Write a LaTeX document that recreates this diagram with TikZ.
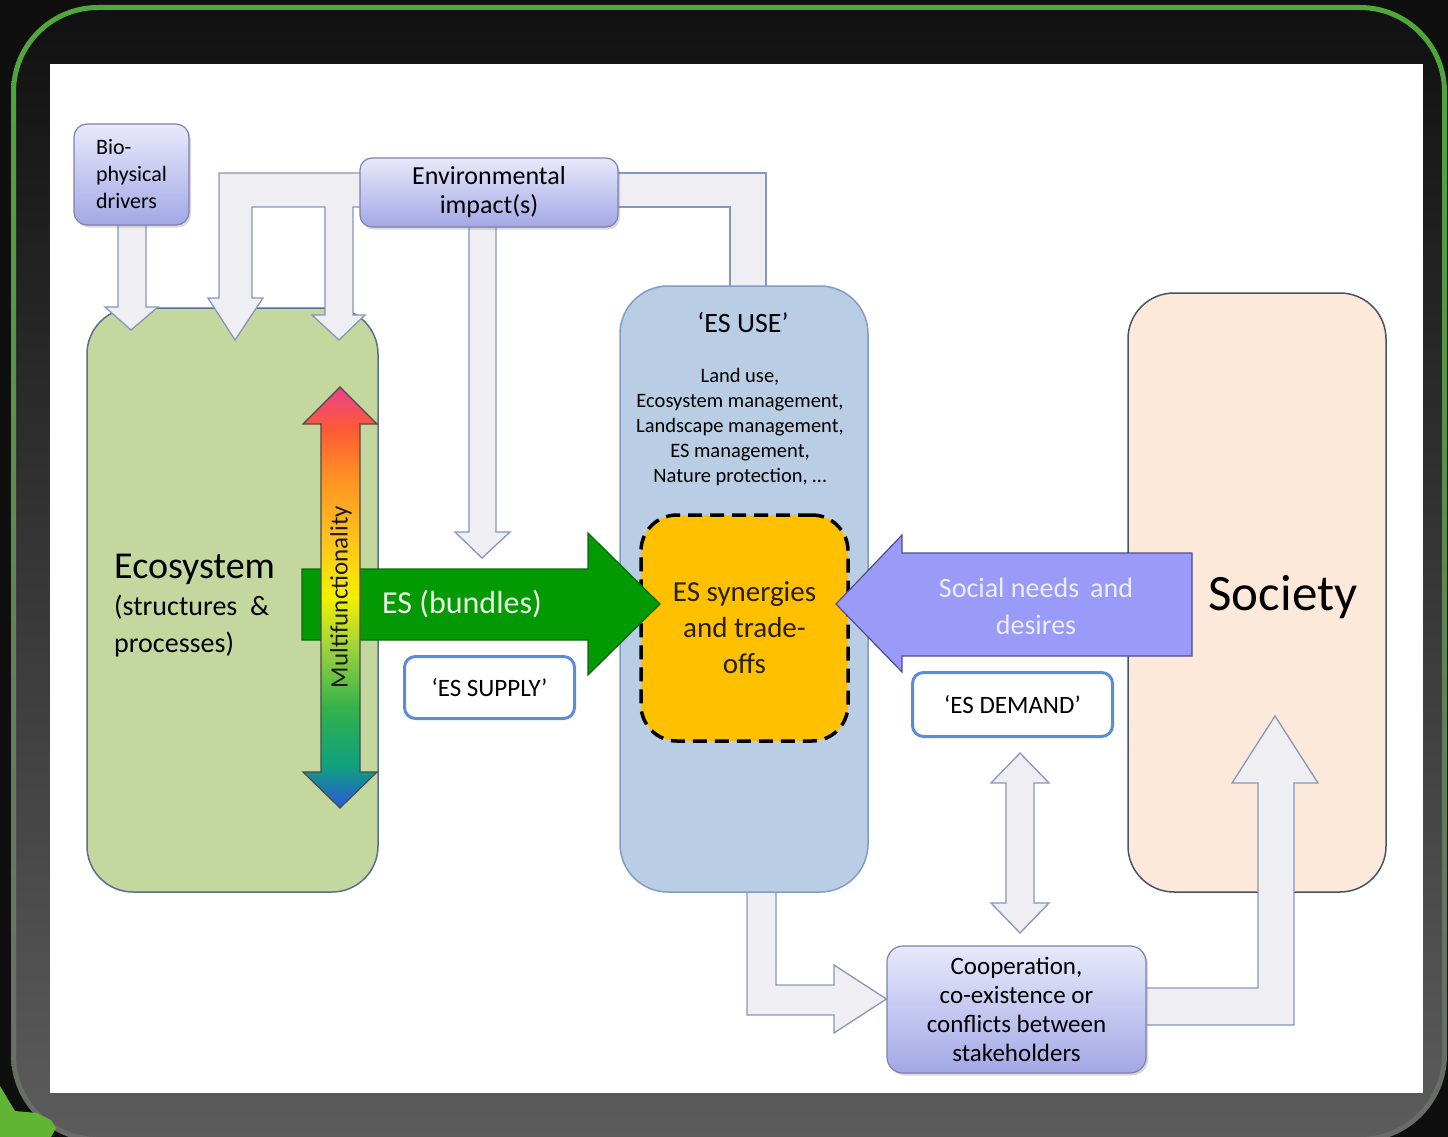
\documentclass[tikz,border=0pt]{standalone}
\usepackage{fontspec}
\setmainfont{Carlito}
\usetikzlibrary{shadows}

\definecolor{frameBlack}{HTML}{0F0F0F}
\definecolor{panelTop}{HTML}{111111}
\definecolor{panelBot}{HTML}{5C5C5C}
\definecolor{rimTop}{HTML}{4FA83A}
\definecolor{rimMid}{HTML}{2D5A25}
\definecolor{rimBot}{HTML}{6A6A6A}
\definecolor{leafGreen}{HTML}{62B534}
\definecolor{boxTop}{HTML}{E8E9FB}
\definecolor{boxBot}{HTML}{A3A8E6}
\definecolor{boxLine}{HTML}{7D82AA}
\definecolor{flowFill}{HTML}{EEEEF3}
\definecolor{flowLine}{HTML}{8797B8}
\definecolor{ecoFill}{HTML}{C4D79E}
\definecolor{ecoLine}{HTML}{5A6F8F}
\definecolor{useFill}{HTML}{B9CDE5}
\definecolor{useLine}{HTML}{809DC6}
\definecolor{socFill}{HTML}{FDE9D9}
\definecolor{socLine}{HTML}{46546A}
\definecolor{synFill}{HTML}{FFC000}
\definecolor{synText}{HTML}{2A2000}
\definecolor{esGreen}{HTML}{049A04}
\definecolor{esGreenLine}{HTML}{0B6A0B}
\definecolor{esGreenText}{HTML}{EAF7E6}
\definecolor{needFill}{HTML}{9A9AF8}
\definecolor{needLine}{HTML}{4E4E8C}
\definecolor{needText}{HTML}{ECECFF}
\definecolor{tagLine}{HTML}{5A8ED2}
\definecolor{mfPink}{HTML}{E8428A}
\definecolor{mfRed}{HTML}{FF5A36}
\definecolor{mfOrange}{HTML}{FF9422}
\definecolor{mfAmber}{HTML}{FFC21E}
\definecolor{mfYellow}{HTML}{F2F000}
\definecolor{mfLime}{HTML}{9ED23E}
\definecolor{mfGreen}{HTML}{34B24A}
\definecolor{mfTeal}{HTML}{10A07E}
\definecolor{mfBlue}{HTML}{2A58D8}
\definecolor{mfLine}{HTML}{4A4A4A}

% rainbow running from blue (bottom) to pink (top)
\pgfdeclareverticalshading{multifun}{100bp}{color(0bp)=(mfBlue); color(25bp)=(mfBlue);
  color(30bp)=(mfTeal); color(37bp)=(mfGreen); color(44bp)=(mfLime);
  color(50bp)=(mfYellow); color(57bp)=(mfAmber); color(64bp)=(mfOrange);
  color(70bp)=(mfRed); color(75bp)=(mfPink); color(100bp)=(mfPink)}

\newcommand{\setpx}[2]{\fontsize{#1}{#2}\selectfont}

\pgfdeclarelayer{base}
\pgfdeclarelayer{flows}
\pgfdeclarelayer{front}
\pgfsetlayers{base,flows,main,front}

\tikzset{
  drvbox/.style={draw=boxLine, line width=1.2, top color=boxTop, bottom color=boxBot,
    rounded corners=13, inner sep=0pt, align=center,
    drop shadow={shadow xshift=2pt, shadow yshift=-2.5pt, opacity=0.3}},
  flow/.style={fill=flowFill, draw=flowLine, line width=1.3, line join=miter},
  bigbox/.style={line width=1.5, rounded corners=46, inner sep=0pt},
  tagbox/.style={draw=tagLine, line width=3, fill=white, rounded corners=11,
    inner sep=0pt, minimum width=170, minimum height=62},
  label/.style={inner sep=0pt, align=center},
}

\begin{document}
\begin{tikzpicture}[x=1pt,y=-1pt]
\useasboundingbox (0,0) rectangle (1448,1137);

\begin{pgfonlayer}{base}
  % frame around the sheet
  \fill[frameBlack] (0,0) rectangle (1448,1137);
  \shade[top color=panelTop, bottom color=panelBot, rounded corners=84]
    (14,8) rectangle (1444,1140);
  \shade[top color=rimTop, middle color=rimMid, bottom color=rimBot, even odd rule]
    {[rounded corners=87] (11,5) rectangle (1447,1142)}
    {[rounded corners=82] (16,10) rectangle (1442,1137)};
  \fill[leafGreen] (0,1086) -- (9,1101) -- (15,1111) -- (37,1113) -- (51,1120)
    -- (56,1128) -- (51,1137) -- (0,1137) -- cycle;
  \fill[white] (50,64) rectangle (1423,1093);

  % ecosystem and society
  \node[bigbox, draw=ecoLine, fill=ecoFill, minimum width=291, minimum height=584] (eco) at (232.5,600) {};
  \node[bigbox, draw=socLine, fill=socFill, minimum width=258, minimum height=599] (soc) at (1257,592.5) {};
\end{pgfonlayer}

% boxes
\node[drvbox, minimum width=115, minimum height=101, align=left, font=\setpx{22}{27}] (bio) at (131.5,174.5)
  {Bio-\\physical\\drivers};
\node[drvbox, rounded corners=12, minimum width=258, minimum height=69, font=\setpx{26}{29}] (env) at (489,192.5)
  {Environmental\\impact(s)};
\node[bigbox, draw=useLine, fill=useFill, rounded corners=48, minimum width=248, minimum height=606] (use) at (744,589) {};
\node[drvbox, rounded corners=16, minimum width=259, minimum height=127, font=\setpx{25}{29}] (coop) at (1016.5,1009.5)
  {Cooperation,\\co-existence or\\conflicts between\\stakeholders};
\node[draw=black, fill=synFill, line width=3.5, dash pattern=on 14pt off 8pt, rounded corners=36,
  minimum width=207, minimum height=226, inner sep=0pt, align=center, text=synText,
  font=\setpx{29}{36}] (syn) at (744.5,628) {ES synergies\\and trade-\\offs};
\node[tagbox, font=\setpx{25}{30}] (supply) at (489.5,687.5) {‘ES SUPPLY’};
\node[tagbox, minimum width=200, minimum height=64, font=\setpx{25}{30}] (demand) at (1012.5,704.5) {‘ES DEMAND’};

% texts inside the large boxes
\node[label, anchor=base west, font=\setpx{38}{40}] (ecot1) at (114,578) {Ecosystem};
\node[label, anchor=base west, font=\setpx{28}{34}] (ecot2) at (114,615) {(structures \ \&};
\node[label, anchor=base west, font=\setpx{28}{34}] (ecot3) at (114,652) {processes)};
\node[label, font=\setpx{28}{32}] (uset) at (743,323) {‘ES USE’};
\node[label, font=\setpx{20.5}{25.2}] (usel) at (740,427)
  {Land use,\\Ecosystem management,\\Landscape management,\\ES management,\\Nature protection, …};
\node[label, font=\setpx{51}{56}] (soct) at (1283,597) {Society};

\begin{pgfonlayer}{flows}
  % environmental impacts fed back to the ecosystem
  \draw[flow] (env.center |- 0,173) -- (219,173) -- (219,298) -- (208,298) -- (235,340)
    -- (263,298) -- (252,298) -- (252,207) -- (325,207) -- (325,315) -- (312,315)
    -- (339,340) -- (365,315) -- (353,315) -- (353,207) -- (env.center |- 0,207) -- cycle;
  % bio-physical drivers into the ecosystem
  \draw[flow] (118,0 |- bio.center) -- (118,307) -- (105,307) -- (131,330) -- (158,307)
    -- (146,307) -- (146,0 |- bio.center) -- cycle;
  % environmental impacts linked to ES use
  \draw[flow] (env.center |- 0,173) -- (766,173) -- (766,0 |- use.center)
    -- (730,0 |- use.center) -- (730,207) -- (env.center |- 0,207) -- cycle;
  % environmental impacts down to the ES supply
  \draw[flow] (469,0 |- env.center) -- (469,532) -- (455,532) -- (482,558) -- (510,532)
    -- (496,532) -- (496,0 |- env.center) -- cycle;
  % ES use to stakeholders
  \draw[flow] (747,0 |- use.center) -- (747,1015) -- (834,1015) -- (834,1033)
    -- (coop.west |- 0,999) -- (834,965) -- (834,985) -- (776,985)
    -- (776,0 |- use.center) -- cycle;
  % stakeholders to society
  \draw[flow] (coop.center |- 0,988) -- (1258,988) -- (1258,783) -- (1232,783)
    -- (1275,716) -- (1318,783) -- (1294,783) -- (1294,1025)
    -- (coop.center |- 0,1025) -- cycle;
  % ES demand <-> stakeholders
  \draw[flow] (1006,783) -- (991,783) -- (1020,753) -- (1049,783) -- (1034,783)
    -- (1034,903) -- (1049,903) -- (1020,933) -- (991,903) -- (1006,903) -- cycle;
\end{pgfonlayer}

\begin{pgfonlayer}{front}
  % ES (bundles)
  \draw[fill=esGreen, draw=esGreenLine, line width=1.2, line join=miter]
    (302,569) -- (588,569) -- (588,533) -- (660,604) -- (588,675) -- (588,640)
    -- (302,640) -- cycle;
  \node[label, text=esGreenText, font=\setpx{32}{36}] (bundt) at (462,604) {ES (bundles)};
  % multifunctionality
  \shade[shading=multifun, draw=mfLine, line width=1.2, line join=miter]
    (321,424) -- (303,424) -- (340,387) -- (377,424) -- (360,424) -- (360,772)
    -- (377,772) -- (340,808) -- (303,772) -- (321,772) -- cycle;
  \node[label, rotate=90, text=black!90, font=\setpx{25}{28}] (mft) at (341,597) {Multifunctionality};
  % social needs
  \draw[fill=needFill, draw=needLine, line width=1.2, line join=miter]
    (1192,553) -- (902,553) -- (902,535) -- (836,604) -- (902,672) -- (902,656)
    -- (1192,656) -- cycle;
  \node[label, text=needText, font=\setpx{28}{37}] (needt) at (1036,606) {Social needs \,and\\desires};
\end{pgfonlayer}
\end{tikzpicture}
\end{document}
